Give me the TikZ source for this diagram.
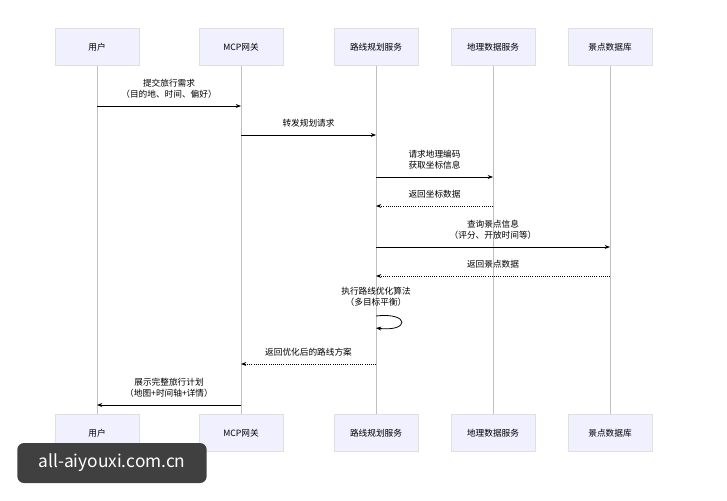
\documentclass[tikz,border=0pt]{standalone}
\usepackage{fontspec}
\setmainfont{Noto Sans CJK SC}
\usetikzlibrary{arrows.meta}
\tikzset{
  actor/.style={draw=black!12,fill=blue!6!white,minimum width=63pt,minimum height=28pt,inner sep=0pt,font=\fontsize{6.5}{8}\selectfont},
  life/.style={draw=black!25,line width=0.5pt},
  msg/.style={-{Stealth[length=4pt]},line width=0.6pt},
  ret/.style={msg,densely dotted},
  lbl/.style={font=\fontsize{6.5}{8.5}\selectfont,align=center,above=2pt}
}
\begin{document}
\begin{tikzpicture}[x=0.75pt,y=-0.75pt]
  \useasboundingbox (0,0) rectangle (727,500);
  \fill[white] (0,0) rectangle (727,500);
  % participants
  \node[actor] (U1) at (97,47) {用户};
  \node[actor] (G1) at (241,47) {MCP网关};
  \node[actor] (R1) at (376,47) {路线规划服务};
  \node[actor] (D1) at (493,47) {地理数据服务};
  \node[actor] (S1) at (610,47) {景点数据库};
  \node[actor] (U2) at (97,433) {用户};
  \node[actor] (G2) at (241,433) {MCP网关};
  \node[actor] (R2) at (376,433) {路线规划服务};
  \node[actor] (D2) at (493,433) {地理数据服务};
  \node[actor] (S2) at (610,433) {景点数据库};
  \foreach \p in {U,G,R,D,S}
    \draw[life] (\p1) -- (\p2);
  % message anchors
  \coordinate (u1) at (97,106);  \coordinate (g1) at (241,106);
  \coordinate (g2) at (241,135); \coordinate (r2) at (376,135);
  \coordinate (r3) at (376,177); \coordinate (d3) at (493,177);
  \coordinate (d4) at (493,206); \coordinate (r4) at (376,206);
  \coordinate (r5) at (376,247); \coordinate (s5) at (610,247);
  \coordinate (s6) at (610,276); \coordinate (r6) at (376,276);
  \coordinate (r7) at (376,316); \coordinate (r8) at (376,328);
  \coordinate (r9) at (376,364); \coordinate (g9) at (241,364);
  \coordinate (g10) at (241,405); \coordinate (u10) at (97,405);
  % messages
  \draw[msg] (u1) -- node[lbl] {提交旅行需求\\（目的地、时间、偏好）} (g1);
  \draw[msg] (g2) -- node[lbl] {转发规划请求} (r2);
  \draw[msg] (r3) -- node[lbl] {请求地理编码\\获取坐标信息} (d3);
  \draw[ret] (d4) -- node[lbl] {返回坐标数据} (r4);
  \draw[msg] (r5) -- node[lbl] {查询景点信息\\（评分、开放时间等）} (s5);
  \draw[ret] (s6) -- node[lbl] {返回景点数据} (r6);
  \draw[msg] (r7) .. controls (410,312) and (410,332) .. (r8);
  \node[font=\fontsize{6.5}{8.5}\selectfont,align=center] (opt) at (376,297) {执行路线优化算法\\（多目标平衡）};
  \draw[ret] (r9) -- node[lbl] {返回优化后的路线方案} (g9);
  \draw[msg] (g10) -- node[lbl] {展示完整旅行计划\\（地图+时间轴+详情）} (u10);
  % watermark
  \node[fill=black!75,text=white,rounded corners=5pt,minimum width=142pt,minimum height=30pt,font=\fontsize{13}{15}\selectfont] (wm) at (112,463) {all-aiyouxi.com.cn};
\end{tikzpicture}
\end{document}
